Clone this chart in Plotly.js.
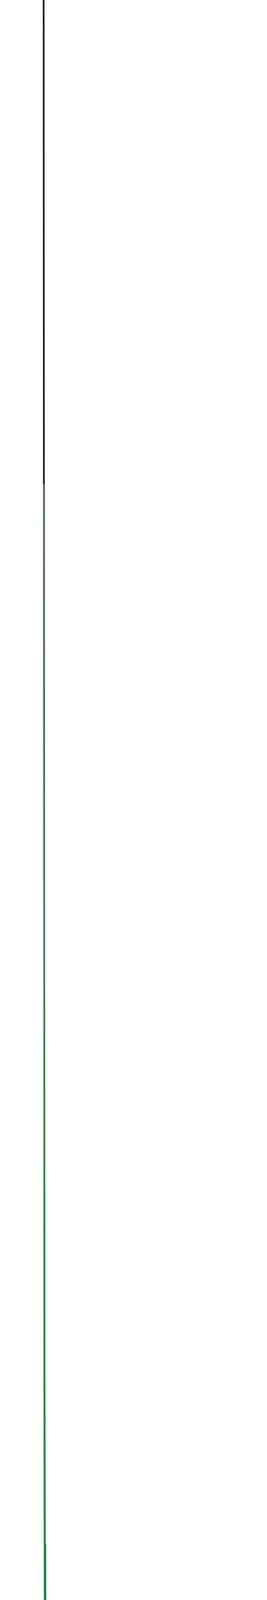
<!DOCTYPE html>
<html>
<head>
<meta charset="utf-8">
<script src="https://cdn.plot.ly/plotly-3.0.1.min.js"></script>
<style>body{margin:0;background:#fff}</style>
</head>
<body>
<div id="graph1"></div>
<script>
let vBlue = [0.42,0.43,0.44,0.46,0.48,0.50,0.52,0.55,0.57,0.60,0.62,0.65,0.70,0.75,0.80,0.85,0.90,1.0,1.1,1.25,1.35,1.5,1.75,2.0,2.25,2.5,3.0,3.5,4.0,4.5,5.0];
let pBlue = [29.15,25.15,22.00,17.40,14.25,12.00,10.33,8.54,7.67,6.67,6.15,5.53,4.79,4.27,3.88,3.59,3.36,3.00,2.74,2.44,2.29,2.10,1.84,1.65,1.49,1.37,1.17,1.02,0.90,0.81,0.74];

let vOrange = [0.365,0.37,0.38,0.39,0.40,0.41,0.42,0.43,0.44,0.46,0.48,0.50,0.52,0.55,0.57,0.60,0.62,0.65,0.70,0.75,0.80,0.85,0.90,1.0,1.1,1.25,1.35,1.5,1.75,2.0,2.25,2.5,3.0,3.5,4.0,4.5,5.0];
let pOrange = [78.53,65.36,47.80,36.75,29.25,23.89,19.92,16.88,14.50,11.09,8.80,7.20,6.05,4.85,4.29,3.67,3.36,3.00,2.61,2.35,2.17,2.04,1.94,1.80,1.70,1.57,1.50,1.41,1.28,1.17,1.08,1.00,0.87,0.77,0.69,0.62,0.57];

let vBlack = [0.36,0.365,0.37,0.38,0.39,0.40,0.41,0.42,0.43,0.44,0.46,0.48,0.50,0.52,0.55,0.57,0.60,0.62,0.65,0.70,0.75,0.80,0.85,0.90,1.0,1.1,1.25,1.35,1.5,1.75,2.0,2.25,2.5,3.0,3.5,4.0,4.5,5.0];
let pBlack = [76.85,61.69,50.81,36.37,27.33,21.25,16.94,13.76,11.36,9.50,6.87,5.16,4.00,3.19,2.39,2.03,1.67,1.50,1.32,1.15,1.07,1.03,1.01,1.00,1.00,1.00,0.99,0.98,0.95,0.90,0.85,0.80,0.75,0.67,0.60,0.54,0.49,0.45];

// 0.85 isotherm is drawn in two pieces (gap in the middle)
let vGreen = [0.36,0.365,0.37,0.38,0.39,0.40,0.41,0.42,0.43,0.44,0.46,0.48,0.50,0.52,0.55,0.57,0.59,0.61,null,2.52,3.0,3.5,4.0,4.5,5.0];
let pGreen = [61.85,49.06,39.90,27.80,20.28,15.25,11.72,9.15,7.22,5.75,3.72,2.43,1.60,1.05,0.55,0.34,0.21,0.13,null,0.56,0.52,0.47,0.43,0.40,0.37];

let critV = [1];
let critP = [1];

let curveLabels = ['<i>T</i>/<i>T</i><sub><i>c</i></sub> = 1.5', '1.2', '1.0 (critical)', '0.85', 'critical point (1, 1)'];

let serif = 'DejaVu Serif, Liberation Serif, serif';

// labels go first so the curves are drawn over them
let labels = {
    x: [4.51, 4.51, 4.51, 4.51, 2.22],
    y: [2.49, 1.70, 1.11, 0.65, 1.24],
    text: curveLabels,
    mode: 'text',
    type: 'scatter',
    textfont: {family: serif, size: 18, color: ['#3a7fcf', '#cc5f36', '#2a2a2a', '#3aa860', '#555']},
    hoverinfo: 'skip'
};

let blue = {x: vBlue, y: pBlue, type: 'scatter', mode: 'lines', line: {color: '#3a7fcf', width: 3}};
let orange = {x: vOrange, y: pOrange, type: 'scatter', mode: 'lines', line: {color: '#cc5f36', width: 3}};
let black = {x: vBlack, y: pBlack, type: 'scatter', mode: 'lines', line: {color: '#222', width: 4.5}};
let green = {x: vGreen, y: pGreen, type: 'scatter', mode: 'lines', connectgaps: false, line: {color: '#3aa860', width: 3}};
let crit = {x: critV, y: critP, type: 'scatter', mode: 'markers', marker: {color: '#222', size: 17}};

let data = [labels, blue, orange, black, green, crit];

let axisColor = '#55555f';
let axisLine = {color: axisColor, width: 2};

let layout = {
    width: 684,
    height: 6430,
    margin: {l: 0, r: 0, t: 0, b: 0},
    paper_bgcolor: '#fff',
    plot_bgcolor: '#fff',
    showlegend: false,
    xaxis: {range: [-0.995, 7.296], visible: false, fixedrange: true},
    yaxis: {range: [-0.687, 76.78], visible: false, fixedrange: true},
    shapes: [
        {type: 'line', layer: 'below', x0: 0, y0: 0, x1: 5.51, y1: 0, line: axisLine},
        {type: 'line', layer: 'below', x0: 0, y0: 0, x1: 0, y1: 5.46, line: axisLine},
        {type: 'path', layer: 'below', path: 'M 5.40 0.12 L 5.51 0 L 5.40 -0.12', line: axisLine},
        {type: 'path', layer: 'below', path: 'M -0.12 5.36 L 0 5.46 L 0.12 5.36', line: axisLine},
        {type: 'line', layer: 'below', x0: 1, y0: -0.09, x1: 1, y1: 0.09, line: {color: axisColor, width: 1.5}},
        {type: 'line', layer: 'below', x0: -0.07, y0: 1, x1: 0.07, y1: 1, line: {color: axisColor, width: 1.5}}
    ],
    annotations: [
        {x: -0.02, y: 5.78, text: '<i>P̃</i> = <i>P</i>/<i>P</i><sub><i>c</i></sub>', showarrow: false,
         font: {family: serif, size: 22, color: '#666'}},
        {x: 5.65, y: 0, xanchor: 'left', text: '<i>Ṽ</i> = <i>V</i>/<i>V</i><sub><i>c</i></sub>', showarrow: false,
         font: {family: serif, size: 22, color: '#666'}},
        {x: -0.2, y: -0.19, text: '0', showarrow: false, font: {family: serif, size: 17, color: '#777'}},
        {x: 1, y: -0.29, text: '1', showarrow: false, font: {family: serif, size: 17, color: '#777'}},
        {x: -0.29, y: 1, text: '1', showarrow: false, font: {family: serif, size: 17, color: '#777'}}
    ]
};

Plotly.newPlot('graph1', data, layout, {staticPlot: true, displayModeBar: false});
</script>
</body>
</html>
